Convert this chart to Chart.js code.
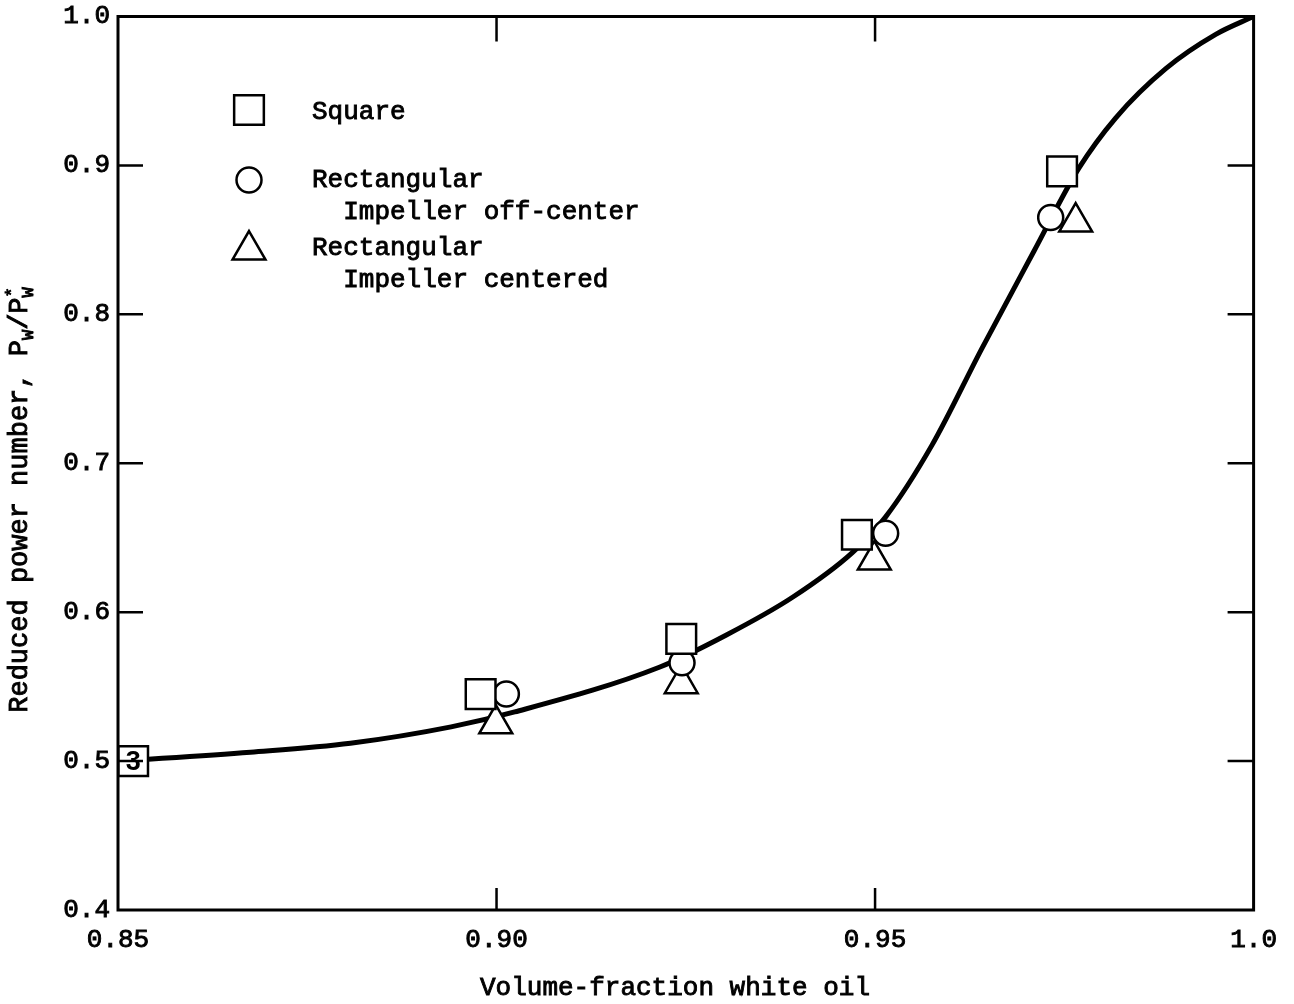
<!DOCTYPE html>
<html>
<head>
<meta charset="utf-8">
<script src="https://cdn.jsdelivr.net/npm/chart.js@4.4.1/dist/chart.umd.min.js"></script>
<style>
  body { margin: 0; background: #fff; overflow: hidden; }
  #wrap { width: 1294px; height: 1011px; margin-top: -7px; position: relative; }
</style>
</head>
<body>
<div id="wrap"><canvas id="chart"></canvas></div>
<script>
// axis ticks
const xTicks = [0.85, 0.90, 0.95, 1.0];
const xTickLabels = ['0.85', '0.90', '0.95', '1.0'];
const yTicks = [0.4, 0.5, 0.6, 0.7, 0.8, 0.9, 1.0];
const yTickLabels = ['0.4', '0.5', '0.6', '0.7', '0.8', '0.9', '1.0'];

// measured points
const squareX = [0.852, 0.8979, 0.9244, 0.9476, 0.9747];
const squareY = [0.500, 0.545, 0.582, 0.652, 0.896];
const circleX = [0.9013, 0.9245, 0.9514, 0.9732];
const circleY = [0.545, 0.566, 0.653, 0.865];
const triangleX = [0.8999, 0.9244, 0.9499, 0.9765];
const triangleY = [0.525, 0.552, 0.635, 0.862];

// faired curve
const curveX = [0.85, 0.8675, 0.8807, 0.894, 0.9024, 0.9215, 0.9303, 0.9391, 0.9470, 0.9514, 0.9575, 0.9641, 0.9710, 0.9769, 0.9818, 0.9884, 0.995, 1.0];
const curveY = [0.500, 0.506, 0.512, 0.523, 0.533, 0.563, 0.5845, 0.610, 0.640, 0.664, 0.712, 0.777, 0.8425, 0.898, 0.932, 0.965, 0.988, 1.0];

const legendLabels = [['Square'], ['Rectangular', '  Impeller off-center'], ['Rectangular', '  Impeller centered']];
const pointLabel = '3';

const FONT = '"Liberation Mono", "Courier New", monospace';
const INK = '#000';
const SHIFT = 7; // canvas is pulled up by this much

function pts(xs, ys) {
    return xs.map((x, i) => ({ x: x, y: ys[i] }));
}

const markerStyles = [
    { pointStyle: 'rect', radius: 21, borderWidth: 2.5 },
    { pointStyle: 'circle', radius: 12.5, borderWidth: 2.5 },
    { pointStyle: 'triangle', radius: 19, borderWidth: 2.5 }
];

// typewriter text: fill plus a thin stroke for weight
function typeText(ctx, t, x, y) {
    ctx.fillText(t, x, y);
    ctx.strokeText(t, x, y);
}

// frame, inward ticks, legend, axis titles
const decorPlugin = {
    id: 'decor',
    afterDraw(chart) {
        const ctx = chart.ctx;
        const a = chart.chartArea;
        const xs = chart.scales.x, ys = chart.scales.y;
        ctx.save();
        ctx.strokeStyle = INK;
        ctx.lineWidth = 3;
        ctx.strokeRect(a.left, a.top, a.right - a.left, a.bottom - a.top);

        ctx.lineWidth = 2.5;
        ctx.beginPath();
        yTicks.slice(1, -1).forEach(v => {
            const py = ys.getPixelForValue(v);
            ctx.moveTo(a.left, py); ctx.lineTo(a.left + 25, py);
            ctx.moveTo(a.right, py); ctx.lineTo(a.right - 26, py);
        });
        xTicks.slice(1, -1).forEach(v => {
            const px = xs.getPixelForValue(v);
            ctx.moveTo(px, a.bottom); ctx.lineTo(px, a.bottom - 22);
            ctx.moveTo(px, a.top); ctx.lineTo(px, a.top + 25);
        });
        ctx.stroke();

        // legend
        const rows = [110, 180, 250];
        const textRows = [[112], [180, 212], [248, 280]];
        ctx.fillStyle = INK;
        ctx.font = '26px ' + FONT;
        ctx.textBaseline = 'middle';
        ctx.textAlign = 'left';
        markerStyles.forEach((m, i) => {
            ctx.save();
            ctx.fillStyle = '#fff';
            ctx.strokeStyle = INK;
            ctx.lineWidth = m.borderWidth;
            Chart.helpers.drawPoint(ctx, { pointStyle: m.pointStyle, radius: m.radius, rotation: 0, borderWidth: m.borderWidth }, 249, rows[i] + SHIFT);
            ctx.restore();
            ctx.lineWidth = 0.9;
            legendLabels[i].forEach((t, j) => typeText(ctx, t, 312, textRows[i][j] + SHIFT));
        });

        // "3" inside first square
        const p0 = chart.getDatasetMeta(0).data[0];
        ctx.font = 'bold 27px "Liberation Sans", Arial, sans-serif';
        ctx.textAlign = 'center';
        ctx.fillText(pointLabel, p0.x, p0.y + 1);

        // x axis title
        ctx.font = '26px ' + FONT;
        ctx.lineWidth = 0.9;
        typeText(ctx, 'Volume-fraction white oil', 675, 988 + SHIFT);

        // y axis title with sub/superscripts
        ctx.translate(27, 500 + SHIFT);
        ctx.rotate(-Math.PI / 2);
        const big = '27px ' + FONT, small = '17px ' + FONT;
        const s1 = 'Reduced power number, P', s2 = '/P';
        ctx.font = big; const w1 = ctx.measureText(s1).width, w3 = ctx.measureText(s2).width;
        ctx.font = small; const wsub = ctx.measureText('W').width;
        const total = w1 + wsub + w3 + wsub;
        let x = -total / 2;
        ctx.textAlign = 'left';
        ctx.textBaseline = 'alphabetic';
        ctx.font = big; typeText(ctx, s1, x, 0); x += w1;
        ctx.font = small; typeText(ctx, 'W', x, 6); x += wsub;
        ctx.font = big; typeText(ctx, s2, x, 0); x += w3;
        ctx.font = small; typeText(ctx, '*', x, -10); typeText(ctx, 'W', x, 6);
        ctx.restore();
    }
};

const tickFont = { family: FONT, size: 26, lineHeight: 1 };

const ctx = document.getElementById('chart').getContext('2d');
new Chart(ctx, {
    type: 'scatter',
    data: {
        datasets: [
            {
                label: 'Square',
                data: pts(squareX, squareY),
                pointStyle: 'rect',
                pointRadius: markerStyles[0].radius,
                pointBorderWidth: 2.5,
                pointBorderColor: INK,
                pointBackgroundColor: '#fff',
                order: 1
            },
            {
                label: 'Rectangular, impeller off-center',
                data: pts(circleX, circleY),
                pointStyle: 'circle',
                pointRadius: markerStyles[1].radius,
                pointBorderWidth: 2.5,
                pointBorderColor: INK,
                pointBackgroundColor: '#fff',
                order: 2
            },
            {
                label: 'Rectangular, impeller centered',
                data: pts(triangleX, triangleY),
                pointStyle: 'triangle',
                pointRadius: markerStyles[2].radius,
                pointBorderWidth: 2.5,
                pointBorderColor: INK,
                pointBackgroundColor: '#fff',
                order: 3
            },
            {
                type: 'line',
                label: 'curve',
                data: pts(curveX, curveY),
                borderColor: INK,
                borderWidth: 5,
                pointRadius: 0,
                cubicInterpolationMode: 'monotone',
                fill: false,
                order: 10
            }
        ]
    },
    options: {
        responsive: true,
        maintainAspectRatio: false,
        animation: false,
        layout: { padding: { top: 15, right: 39, left: 0, bottom: 0 } },
        plugins: {
            legend: { display: false },
            tooltip: { enabled: false }
        },
        scales: {
            x: {
                type: 'linear',
                min: 0.85,
                max: 1.0,
                afterBuildTicks: s => { s.ticks = xTicks.map(v => ({ value: v })); },
                afterFit: s => { s.height = 94; },
                grid: { display: false, drawTicks: false },
                border: { display: false },
                ticks: {
                    padding: 17,
                    maxRotation: 0,
                    color: INK,
                    textStrokeColor: INK,
                    textStrokeWidth: 0.9,
                    font: tickFont,
                    callback: (v, i) => xTickLabels[i]
                }
            },
            y: {
                type: 'linear',
                min: 0.4,
                max: 1.0,
                afterBuildTicks: s => { s.ticks = yTicks.map(v => ({ value: v })); },
                afterFit: s => { s.width = 118; },
                grid: { display: false, drawTicks: false },
                border: { display: false },
                ticks: {
                    padding: 8,
                    color: INK,
                    textStrokeColor: INK,
                    textStrokeWidth: 0.9,
                    font: tickFont,
                    callback: (v, i) => yTickLabels[i]
                }
            }
        }
    },
    plugins: [decorPlugin]
});
</script>
</body>
</html>
